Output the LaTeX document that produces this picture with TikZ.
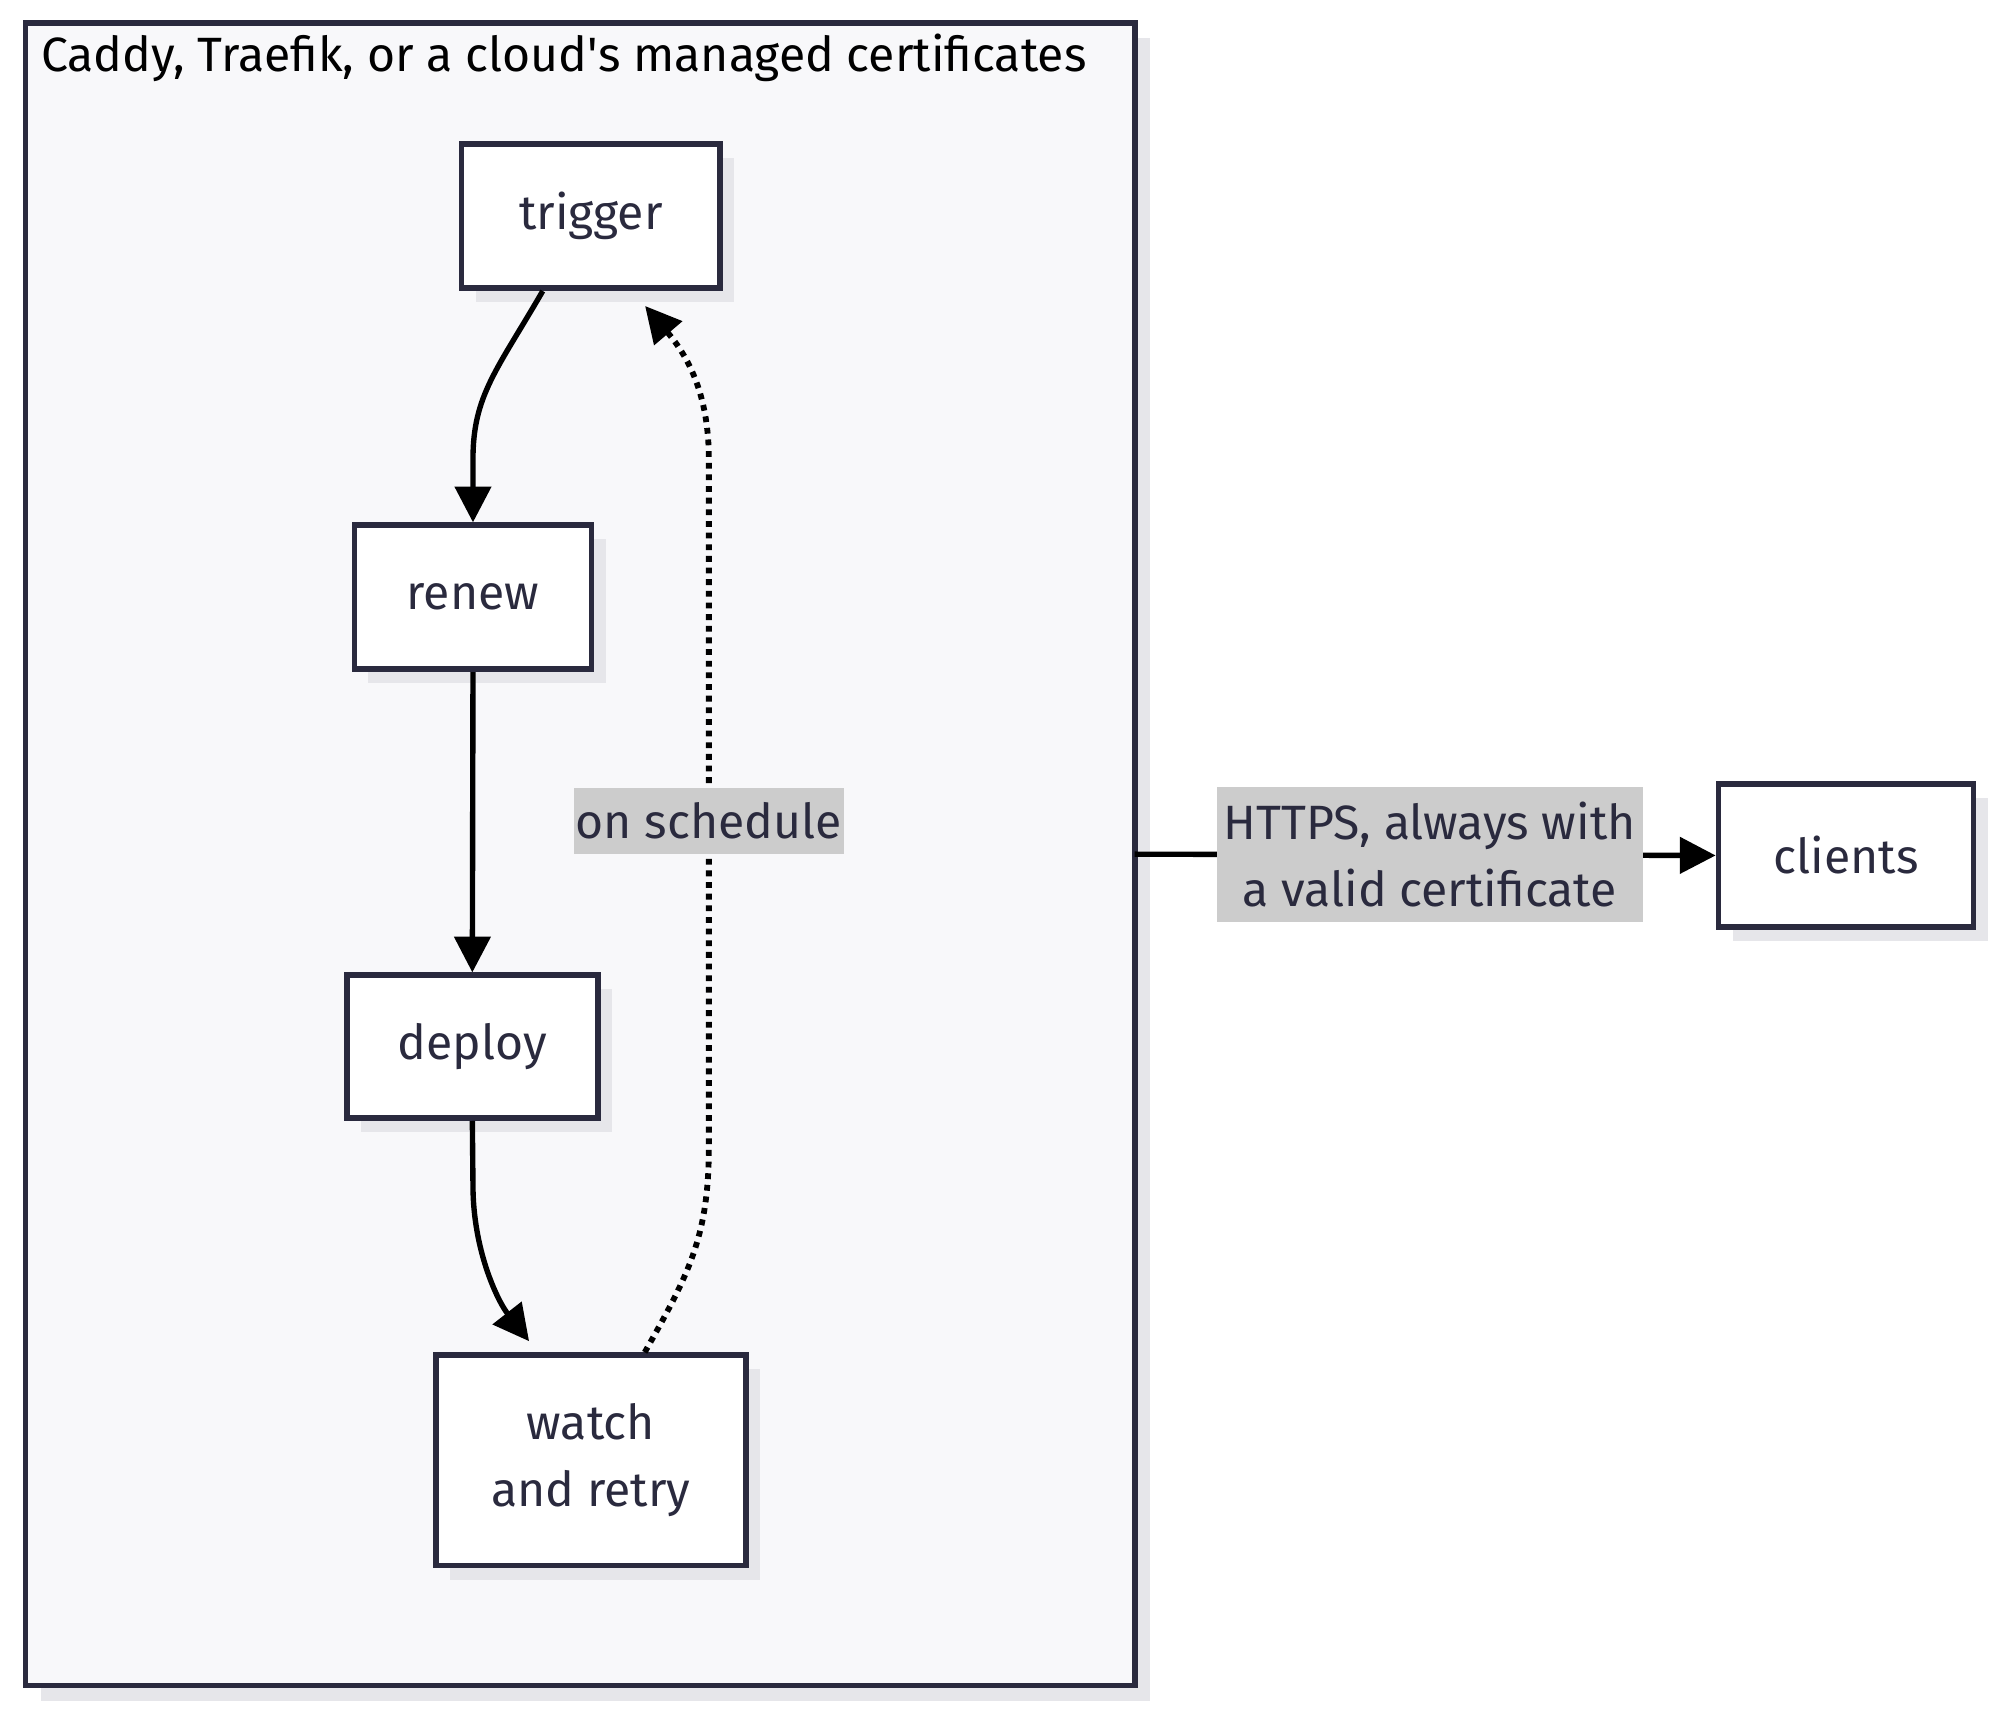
\documentclass[tikz,border=0pt]{standalone}
\usepackage{fontspec}
\setmainfont{Fira Sans}
\usetikzlibrary{arrows.meta,shadows}
\definecolor{ink}{HTML}{2A2A3E}
\definecolor{bg}{HTML}{F8F8FA}
\definecolor{shd}{HTML}{E6E6EA}
\definecolor{lbl}{HTML}{CCCCCC}
\begin{document}
\begin{tikzpicture}[x=0.02cm,y=-0.02cm,
  box/.style={draw=ink,line width=2.6pt,fill=white,text=ink,font=\fontsize{21.5}{30}\selectfont,align=center,
    drop shadow={shadow xshift=0.22cm,shadow yshift=-0.22cm,fill=shd,opacity=1}},
  edge/.style={line width=2.4pt,-{Triangle[length=16pt,width=16pt]}},
  elbl/.style={fill=lbl,text=ink,font=\fontsize{21.5}{30}\selectfont,align=center,inner sep=1pt,outer sep=0pt}]
\useasboundingbox (0,0) rectangle (1568,1343);
\fill[shd] (32,30) rectangle (902,1334);
\draw[ink,line width=2.6pt,fill=bg] (20,18) rectangle (890,1322);
\node[anchor=west,font=\fontsize{21.5}{26}\selectfont,inner sep=0pt] (title) at (32,45) {Caddy, Traefik, or a cloud\textquotesingle s managed certificates};
\node[box,minimum width=203*0.02cm,minimum height=113*0.02cm] (trigger) at (463.5,169.5) {trigger};
\node[box,minimum width=186*0.02cm,minimum height=113*0.02cm] (renew) at (371,468.5) {renew};
\node[box,minimum width=197*0.02cm,minimum height=112*0.02cm] (deploy) at (370.5,821) {deploy};
\node[box,minimum width=243*0.02cm,minimum height=165*0.02cm] (watch) at (463.5,1145.5) {watch\\and retry};
\node[box,minimum width=200*0.02cm,minimum height=112*0.02cm] (clients) at (1448,671) {clients};
\coordinate (cont) at (890,670);
\draw[edge] (trigger.south west)++(66,0) .. controls (390,290) and (371,310) .. (371,360) -- (renew.north);
\draw[edge] (renew.south) -- (deploy.north);
\draw[edge] (deploy.south) -- (371,930) .. controls (371,980) and (390,1020) .. (415,1052);
\draw[line width=2.6pt,dash pattern=on 2.6pt off 2.6pt,-{Triangle[length=16pt,width=16pt]}] (watch.north west)++(166,0) .. controls (540,1000) and (556,970) .. (556,900) -- (556,360) .. controls (556,310) and (540,280) .. (506,240);
\node[elbl,minimum width=206*0.02cm,minimum height=52*0.02cm] (ls) at (556,644) {on schedule};
\draw[edge] (cont) -- (clients.west) node[elbl,pos=0.508,minimum width=334*0.02cm,minimum height=106*0.02cm] {HTTPS, always with\\a valid certificate};
\end{tikzpicture}
\end{document}
